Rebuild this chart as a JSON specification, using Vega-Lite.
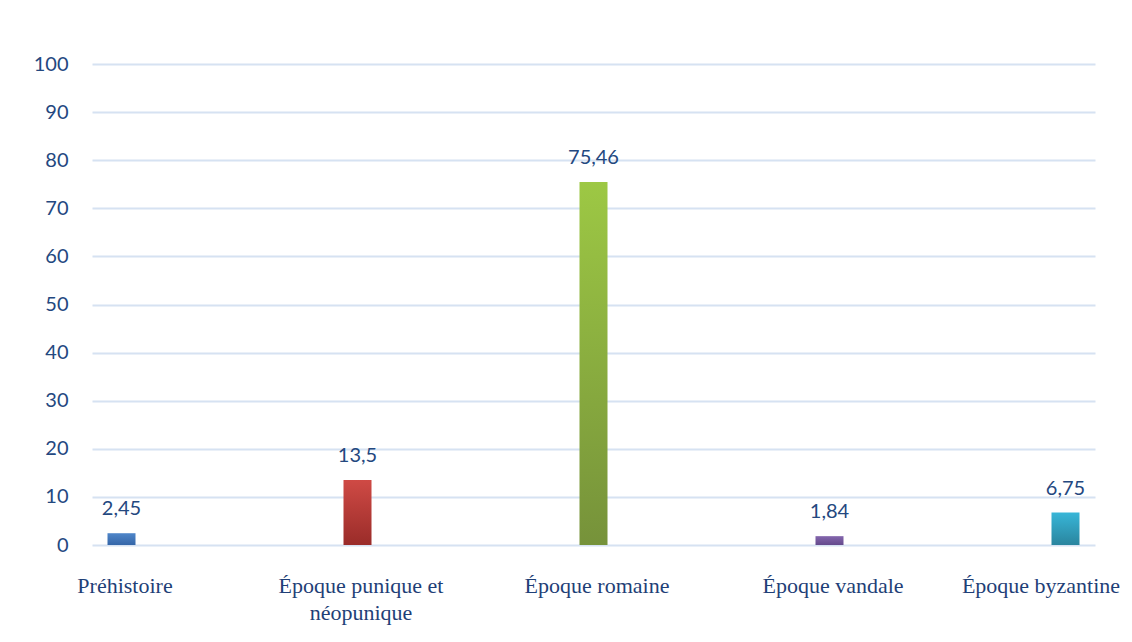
{
  "$schema": "https://vega.github.io/schema/vega-lite/v6.json",
  "width": 1003,
  "height": 481,
  "autosize": "none",
  "padding": {"left": 92, "top": 64, "right": 37, "bottom": 97},
  "background": "white",
  "config": {
    "view": {"stroke": null},
    "locale": {"number": {"decimal": ",", "thousands": " ", "grouping": [3], "currency": ["", " €"]}}
  },
  "data": {"values": [
    {"periode": "Préhistoire", "pct": 2.45},
    {"periode": "Époque punique et\nnéopunique", "pct": 13.5},
    {"periode": "Époque romaine", "pct": 75.46},
    {"periode": "Époque vandale", "pct": 1.84},
    {"periode": "Époque byzantine", "pct": 6.75}
  ]},
  "encoding": {
    "x": {
      "field": "periode", "type": "nominal", "sort": null,
      "scale": {"type": "point", "padding": 0.125},
      "axis": {
        "title": null, "labelAngle": 0, "domain": false, "ticks": false,
        "labelFont": "Liberation Serif", "labelFontSize": 22, "labelColor": "#1F3F77",
        "labelPadding": 30, "labelLineHeight": 27,
        "labelOffset": {"condition": {"test": "datum.label == 'Époque byzantine'", "value": -25}, "value": 3},
        "labelExpr": "split(datum.label, '\\n')"
      }
    },
    "y": {
      "field": "pct", "type": "quantitative",
      "scale": {"domain": [0, 100]},
      "axis": {
        "title": null, "values": [0,10,20,30,40,50,60,70,80,90,100],
        "domain": false, "ticks": false, "labelPadding": 24,
        "labelFont": "Lato", "labelFontSize": 20, "labelColor": "#24487F",
        "gridColor": "#D6E2F2", "gridWidth": 2
      }
    }
  },
  "layer": [
    {"transform": [{"filter": "datum.periode == 'Préhistoire'"}],
     "mark": {"type": "bar", "width": 28, "color": {"gradient": "linear", "x1": 0, "y1": 0, "x2": 0, "y2": 1, "stops": [{"offset": 0, "color": "#4F86C9"}, {"offset": 1, "color": "#3566A8"}]}}},
    {"transform": [{"filter": "datum.pct == 13.5"}],
     "mark": {"type": "bar", "width": 28, "color": {"gradient": "linear", "x1": 0, "y1": 0, "x2": 0, "y2": 1, "stops": [{"offset": 0, "color": "#CF4A45"}, {"offset": 1, "color": "#9A2C29"}]}}},
    {"transform": [{"filter": "datum.periode == 'Époque romaine'"}],
     "mark": {"type": "bar", "width": 28, "color": {"gradient": "linear", "x1": 0, "y1": 0, "x2": 0, "y2": 1, "stops": [{"offset": 0, "color": "#9DC844"}, {"offset": 1, "color": "#76923A"}]}}},
    {"transform": [{"filter": "datum.periode == 'Époque vandale'"}],
     "mark": {"type": "bar", "width": 28, "color": {"gradient": "linear", "x1": 0, "y1": 0, "x2": 0, "y2": 1, "stops": [{"offset": 0, "color": "#8466AD"}, {"offset": 1, "color": "#654A8C"}]}}},
    {"transform": [{"filter": "datum.periode == 'Époque byzantine'"}],
     "mark": {"type": "bar", "width": 28, "color": {"gradient": "linear", "x1": 0, "y1": 0, "x2": 0, "y2": 1, "stops": [{"offset": 0, "color": "#38B6D8"}, {"offset": 1, "color": "#2A859E"}]}}},
    {"mark": {"type": "text", "baseline": "bottom", "dy": -14, "font": "Lato", "fontSize": 20, "color": "#24487F"},
     "encoding": {"text": {"field": "pct", "type": "quantitative", "format": ".4~g"}}}
  ]
}
